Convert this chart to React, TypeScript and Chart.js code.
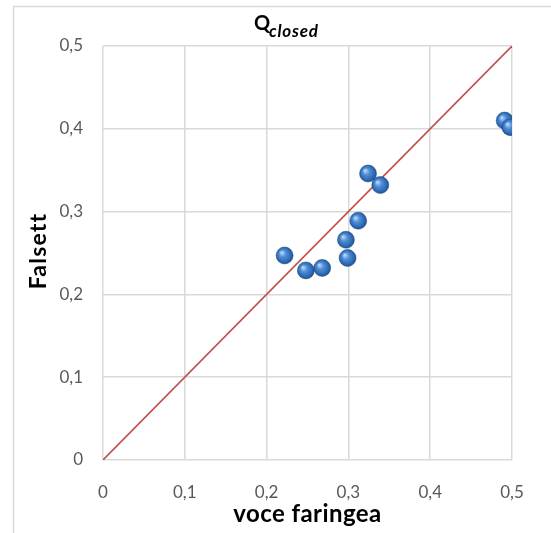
import React, { useEffect, useRef } from "react";
import { Chart, registerables } from "chart.js";

Chart.register(...registerables);

const voceFaringea = [0.222, 0.248, 0.268, 0.297, 0.299, 0.312, 0.324, 0.339, 0.491, 0.498];
const falsett = [0.247, 0.229, 0.232, 0.266, 0.244, 0.289, 0.346, 0.332, 0.41, 0.402];
const diagonal = [0, 0.5];
const tickValues = [0, 0.1, 0.2, 0.3, 0.4, 0.5];
const xTitle = "voce faringea";
const yTitle = "Falsett";
const titleMain = "Q";
const titleSub = "closed";

const FONT = "Lato, 'Open Sans', sans-serif";

function fitText(ctx: any, text: string, font: string, target: number) {
  ctx.font = font;
  try {
    ctx.letterSpacing = "0px";
  } catch (e) {}
  const natural = ctx.measureText(text).width;
  const n = Math.max(text.length - 1, 1);
  const sp = Math.max(-1, Math.min(1.2, (target - natural) / n));
  try {
    ctx.letterSpacing = sp.toFixed(2) + "px";
  } catch (e) {}
  return ctx.measureText(text).width;
}

const framePlugin = {
  id: "frame",
  beforeDraw(chart: any) {
    const { ctx, width, height } = chart;
    ctx.save();
    ctx.fillStyle = "#ffffff";
    ctx.fillRect(0, 0, width, height);
    ctx.strokeStyle = "#d9d9d9";
    ctx.lineWidth = 1.5;
    ctx.beginPath();
    ctx.moveTo(13.5, height + 5);
    ctx.lineTo(13.5, 6.5);
    ctx.lineTo(width + 5, 6.5);
    ctx.stroke();
    ctx.restore();
  },
  afterDraw(chart: any) {
    const { ctx } = chart;
    ctx.save();
    ctx.fillStyle = "#000000";
    ctx.textBaseline = "alphabetic";
    ctx.textAlign = "left";
    // chart title
    fitText(ctx, titleMain, `bold 20px ${FONT}`, 15);
    ctx.fillText(titleMain, 254, 30);
    fitText(ctx, titleSub, `italic bold 17px ${FONT}`, 49);
    ctx.fillText(titleSub, 269, 37);
    // x axis title
    const xs = chart.scales.x;
    const xc = (xs.left + xs.right) / 2;
    const wx = fitText(ctx, xTitle, `bold 24px ${FONT}`, 148);
    ctx.fillText(xTitle, xc - wx / 2, 522);
    // y axis title
    const ys = chart.scales.y;
    const yc = (ys.top + ys.bottom) / 2 - 2;
    const wy = fitText(ctx, yTitle, `bold 23px ${FONT}`, 76);
    ctx.translate(46, yc);
    ctx.rotate(-Math.PI / 2);
    ctx.fillText(yTitle, -wy / 2, 0);
    ctx.restore();
  },
};

function sphere(context: any) {
  const chart = context.chart;
  const raw = context.raw;
  if (!raw || !chart.scales || !chart.scales.x) return "#3b78c2";
  const px = chart.scales.x.getPixelForValue(raw.x);
  const py = chart.scales.y.getPixelForValue(raw.y);
  if (!isFinite(px) || !isFinite(py)) return "#3b78c2";
  const g = chart.ctx.createRadialGradient(px - 3, py - 3, 0.5, px, py, 9);
  g.addColorStop(0, "#b9d6f5");
  g.addColorStop(0.35, "#4f8fd8");
  g.addColorStop(0.8, "#2a66ae");
  g.addColorStop(1, "#1c4a85");
  return g;
}

export default function App() {
  const ref = useRef<HTMLCanvasElement | null>(null);
  useEffect(() => {
    if (!ref.current) return;
    const chart = new Chart(ref.current, {
      type: "scatter",
      data: {
        datasets: [
          {
            label: "Qclosed",
            data: voceFaringea.map((v, i) => ({ x: v, y: falsett[i] })),
            pointRadius: 8.5,
            pointHoverRadius: 8.5,
            backgroundColor: sphere as any,
            borderColor: "rgba(30,70,130,0.6)",
            borderWidth: 0.8,
            showLine: false,
          },
          {
            label: "diag",
            data: diagonal.map((v) => ({ x: v, y: v })),
            showLine: true,
            borderColor: "#c0504d",
            borderWidth: 1.6,
            pointRadius: 0,
            fill: false,
          },
        ],
      },
      options: {
        animation: false,
        responsive: false,
        devicePixelRatio: 1,
        layout: { padding: { top: 46, right: 39, bottom: 0, left: 0 } },
        plugins: {
          legend: { display: false },
          tooltip: { enabled: false },
          title: { display: false },
        },
        scales: {
          x: {
            type: "linear",
            min: 0,
            max: 0.5,
            afterFit: (s: any) => {
              s.height = 73;
            },
            afterBuildTicks: (s: any) => {
              s.ticks = tickValues.map((v) => ({ value: v }));
            },
            grid: { color: "#d9d9d9", lineWidth: 1.5, drawTicks: false },
            border: { display: false },
            ticks: {
              padding: 22,
              color: "#595959",
              font: { family: FONT, size: 17 },
              callback: (v: any) => String(v).replace(".", ","),
            },
          },
          y: {
            type: "linear",
            min: 0,
            max: 0.5,
            afterFit: (s: any) => {
              s.width = 103;
            },
            afterBuildTicks: (s: any) => {
              s.ticks = tickValues.map((v) => ({ value: v }));
            },
            grid: { color: "#d9d9d9", lineWidth: 1.5, drawTicks: false },
            border: { display: false },
            ticks: {
              padding: 20,
              color: "#595959",
              font: { family: FONT, size: 17 },
              callback: (v: any) => String(v).replace(".", ","),
            },
          },
        },
      },
      plugins: [framePlugin],
    });
    return () => chart.destroy();
  }, []);
  return (
    <div style={{ position: "fixed", left: 0, top: 0, width: 551, height: 533 }}>
      <canvas ref={ref} width={551} height={533} style={{ width: 551, height: 533 }} />
    </div>
  );
}
